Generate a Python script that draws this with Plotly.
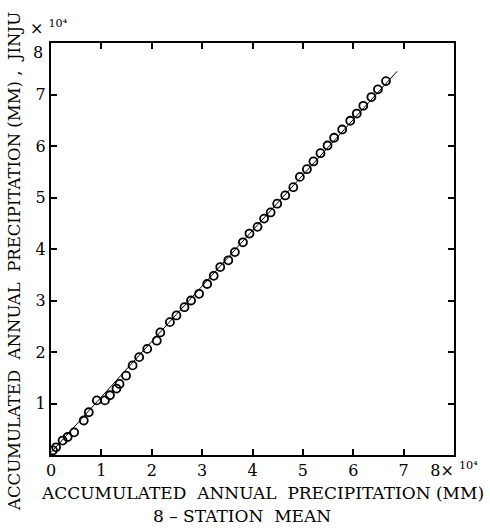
import plotly.graph_objects as go

# Accumulated annual precipitation (x 10^4 mm)
station_mean_acc = [0.04, 0.10, 0.23, 0.33, 0.46, 0.65, 0.75, 0.91, 1.07, 1.17, 1.30, 1.36, 1.49,
                    1.62, 1.75, 1.91, 2.10, 2.17, 2.36, 2.49, 2.65, 2.78, 2.94, 3.10, 3.23,
                    3.36, 3.52, 3.65, 3.81, 3.94, 4.10, 4.23, 4.36, 4.49, 4.65, 4.81, 4.94,
                    5.08, 5.21, 5.35, 5.49, 5.62, 5.78, 5.94, 6.07, 6.20, 6.36, 6.49, 6.65]
jinju_acc = [0.09, 0.15, 0.28, 0.35, 0.44, 0.67, 0.83, 1.06, 1.06, 1.16, 1.29, 1.38, 1.54,
             1.74, 1.90, 2.06, 2.22, 2.38, 2.58, 2.71, 2.87, 3.00, 3.13, 3.32, 3.48,
             3.65, 3.78, 3.94, 4.13, 4.30, 4.43, 4.59, 4.71, 4.88, 5.04, 5.20, 5.40,
             5.55, 5.70, 5.86, 6.01, 6.16, 6.32, 6.49, 6.63, 6.78, 6.95, 7.10, 7.26]
fit_x = [0.0, 6.87]
fit_y = [0.05, 7.45]

x_tickvals = [0, 1, 2, 3, 4, 5, 6, 7, 8]
x_ticktext = ["0", "1", "2", "3", "4", "5", "6", "7", "8\u00d7 <sup>10\u2074</sup>"]
y_tickvals = [1, 2, 3, 4, 5, 6, 7, 8]
y_ticktext = ["1", "2", "3", "4", "5", "6", "7", ""]
y_top_label = "8"

FONT = "DejaVu Serif"

fig = go.Figure()
fig.add_trace(go.Scatter(x=fit_x, y=fit_y, mode="lines",
                         line=dict(color="black", width=1), showlegend=False))
fig.add_trace(go.Scatter(x=station_mean_acc, y=jinju_acc, mode="markers",
                         marker=dict(symbol="circle-open", size=8, color="black",
                                     line=dict(width=1.8, color="black")),
                         showlegend=False))

L, R, T, B = 51, 465, 43, 455
W, H = 490, 529

axis_common = dict(showgrid=False, zeroline=False, showline=True, linecolor="black",
                   linewidth=2, mirror="ticks", ticks="inside", ticklen=6, tickwidth=1.5,
                   tickcolor="black", tickfont=dict(family=FONT, size=16, color="black"))

fig.update_xaxes(range=[0, 8], tickvals=x_tickvals, ticktext=x_ticktext, **axis_common)
fig.update_yaxes(range=[0, 8], tickvals=y_tickvals, ticktext=y_ticktext, **axis_common)

def px2paper_x(px):
    return (px - L) / (R - L)

def px2paper_y(py):
    return (B - py) / (B - T)

annotations = [
    dict(text="ACCUMULATED  ANNUAL  PRECIPITATION (MM) ,  JINJU", x=px2paper_x(13), y=px2paper_y(262),
         textangle=-90, font=dict(family=FONT, size=16.5, color="black")),
    dict(text="ACCUMULATED  ANNUAL  PRECIPITATION (MM)", x=px2paper_x(268), y=px2paper_y(493),
         font=dict(family=FONT, size=17, color="black")),
    dict(text="8 \u2013 STATION  MEAN", x=px2paper_x(247), y=px2paper_y(516),
         font=dict(family=FONT, size=17, color="black")),
    dict(text="\u00d7 <sup>10\u2074</sup>", x=px2paper_x(27), y=px2paper_y(28), xanchor="left",
         font=dict(family=FONT, size=16, color="black")),
    dict(text=y_top_label, x=px2paper_x(45), y=px2paper_y(52), xanchor="right",
         font=dict(family=FONT, size=16, color="black")),
]
for a in annotations:
    a.setdefault("xanchor", "center")
    a.update(xref="paper", yref="paper", showarrow=False, yanchor="middle")

fig.update_layout(width=W, height=H, margin=dict(l=L, r=W - R, t=T, b=H - B),
                  paper_bgcolor="white", plot_bgcolor="white", annotations=annotations)

fig.write_html("out.html")
